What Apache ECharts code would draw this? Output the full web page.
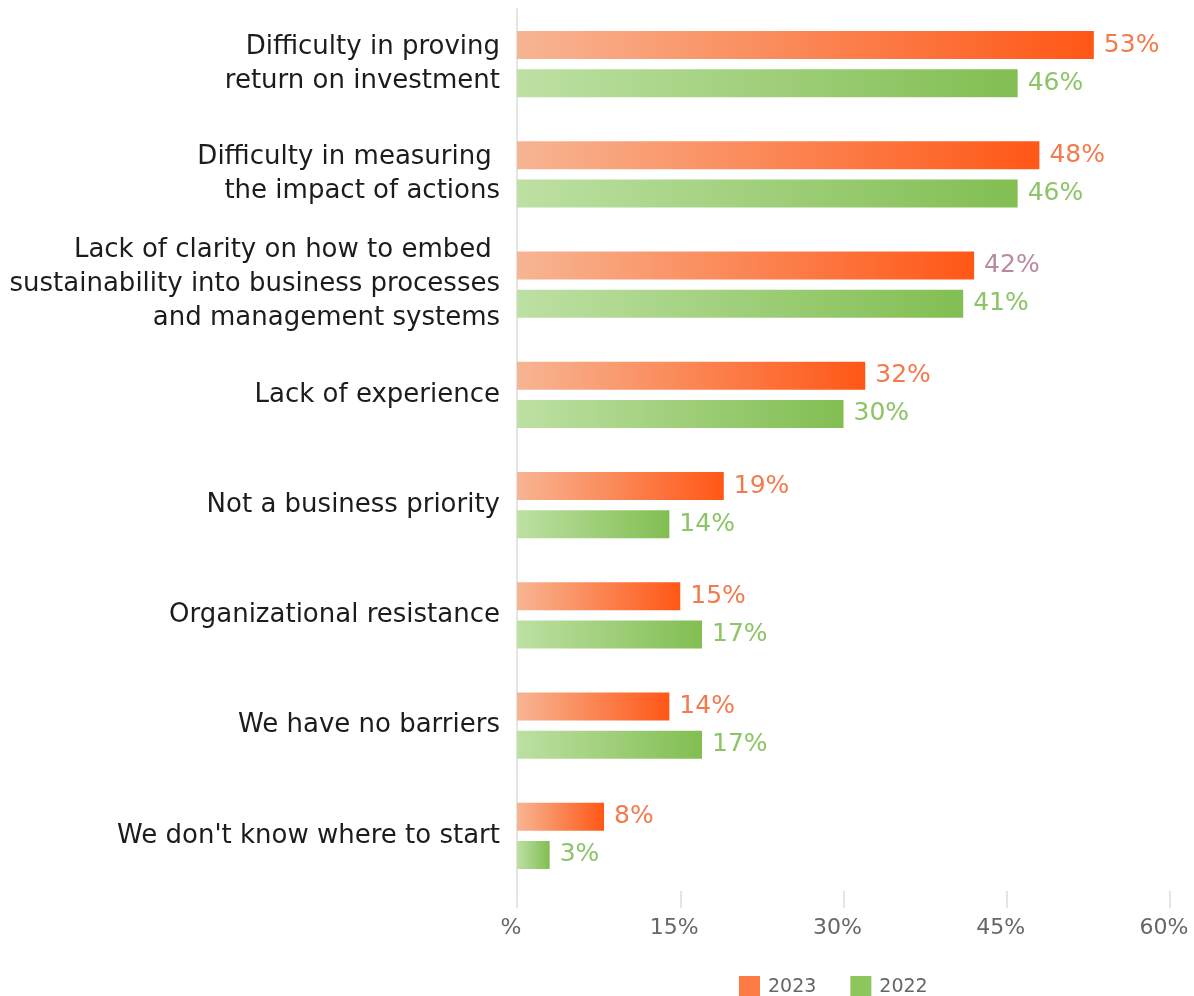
<!DOCTYPE html>
<html>
<head>
<meta charset="utf-8">
<script src="https://cdn.jsdelivr.net/npm/echarts@6/dist/echarts.min.js"></script>
<style>
  html, body { margin: 0; padding: 0; background: #ffffff; }
  #chart { width: 1194px; height: 996px; }
</style>
</head>
<body>
<div id="chart"></div>
<script>
// Barriers to sustainability action, share of respondents (%)
const categories = [
  'Difficulty in proving\nreturn on investment',
  'Difficulty in measuring \nthe impact of actions',
  'Lack of clarity on how to embed \nsustainability into business processes\nand management systems',
  'Lack of experience',
  'Not a business priority',
  'Organizational resistance',
  'We have no barriers',
  "We don't know where to start"
];
const values2023 = [53, 48, 42, 32, 19, 15, 14, 8];
const values2022 = [46, 46, 41, 30, 14, 17, 17, 3];
const seriesNames = ['2023', '2022'];
const xTicks = [0, 15, 30, 45, 60];

const FONT = 'DejaVu Sans';
const orangeText = '#f47a4c';
const greenText = '#8cc466';

const orangeGrad = new echarts.graphic.LinearGradient(0, 0, 1, 0, [
  { offset: 0, color: '#f7b593' },
  { offset: 1, color: '#ff5716' }
]);
const greenGrad = new echarts.graphic.LinearGradient(0, 0, 1, 0, [
  { offset: 0, color: '#bde0a3' },
  { offset: 1, color: '#82be52' }
]);

const data2023 = values2023.map((v, i) =>
  i === 2 ? { value: v, label: { color: '#b98a9f' } } : v
);

const chart = echarts.init(document.getElementById('chart'), null, { renderer: 'canvas' });
chart.setOption({
  animation: false,
  backgroundColor: '#ffffff',
  textStyle: { fontFamily: FONT },
  grid: { left: 517, right: 24, top: 9, bottom: 105, containLabel: false },
  legend: {
    top: 971,
    left: 734,
    padding: 5,
    itemWidth: 21,
    itemHeight: 22,
    itemGap: 34,
    icon: 'rect',
    textStyle: { fontSize: 19, color: '#666666', fontFamily: FONT, padding: [0, 0, 0, 3] },
    data: [
      { name: seriesNames[0], itemStyle: { color: '#fd7a45' } },
      { name: seriesNames[1], itemStyle: { color: '#8cc65c' } }
    ]
  },
  xAxis: {
    type: 'value',
    min: xTicks[0],
    max: xTicks[xTicks.length - 1],
    interval: 15,
    axisLine: { show: false },
    axisTick: { show: true, length: 17, lineStyle: { color: '#dddddd', width: 1.5 } },
    splitLine: { show: false },
    axisLabel: {
      margin: 26,
      fontSize: 22,
      color: '#666666',
      padding: [0, 12, 0, 0],
      formatter: v => (v === 0 ? '%' : v + '%')
    }
  },
  yAxis: {
    type: 'category',
    inverse: true,
    data: categories,
    axisLine: { show: true, lineStyle: { color: '#e4e4e4', width: 2 } },
    axisTick: { show: false },
    axisLabel: {
      margin: 17,
      fontSize: 26,
      lineHeight: 34,
      color: '#1c1c1c',
      align: 'right'
    }
  },
  series: [
    {
      name: seriesNames[0],
      type: 'bar',
      data: data2023,
      barWidth: 28,
      barGap: '36%',
      itemStyle: { color: orangeGrad },
      label: {
        show: true,
        position: 'right',
        distance: 10,
        fontSize: 25,
        color: orangeText,
        formatter: p => p.value + '%'
      }
    },
    {
      name: seriesNames[1],
      type: 'bar',
      data: values2022,
      barWidth: 28,
      barGap: '36%',
      itemStyle: { color: greenGrad },
      label: {
        show: true,
        position: 'right',
        distance: 10,
        fontSize: 25,
        color: greenText,
        formatter: p => p.value + '%'
      }
    }
  ]
});
</script>
</body>
</html>
